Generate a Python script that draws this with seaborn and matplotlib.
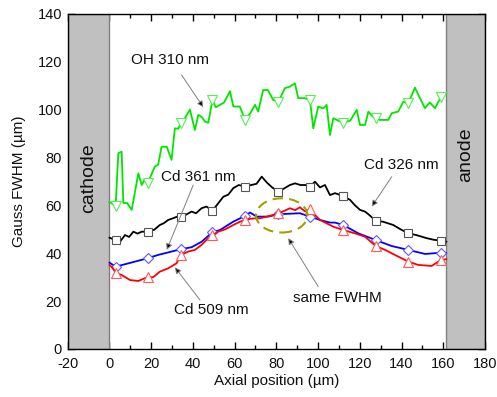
import numpy as np
import pandas as pd
import matplotlib
matplotlib.use("Agg")
import matplotlib.pyplot as plt
from matplotlib.patches import Rectangle, Ellipse
from matplotlib.ticker import MultipleLocator
import seaborn as sns

# ---------------- data ----------------
marker_x = [3.0, 18.3, 34.3, 49.4, 65.0, 81.0, 96.1, 112.0, 127.6, 143.2, 158.9]

oh_x = [0, 3.0, 4.3, 5.9, 6.7, 8.5, 10.7, 13.9, 15.5, 16.8, 18.3, 21.8, 23.4, 25.0, 27.5,
        29.8, 31.4, 33.0, 34.3, 36.2, 38.6, 41.0, 42.6, 44.2, 45.8, 47.4, 49.4, 51.0, 53.0,
        55.0, 57.8, 59.4, 62.5, 65.0, 67.5, 69.8, 71.3, 73.7, 76.0, 78.5, 81.0, 84.1, 86.5,
        88.9, 90.5, 93.5, 96.1, 97.7, 100.1, 102.5, 104.1, 105.7, 107.3, 109.0, 112.0, 115.5,
        118.5, 120.1, 122.5, 124.1, 125.7, 127.6, 129.5, 133.6, 135.3, 138.4, 140.8, 143.2,
        146.4, 148.8, 151.2, 153.5, 156.0, 158.9, 161.5]
oh_y = [61.5, 59.7, 81.8, 82.4, 61, 61, 58.1, 73.4, 68.5, 70.5, 69.2, 76.2, 77, 84.5, 84.5,
        79, 92.2, 92, 94.3, 96.4, 100, 91.5, 97.8, 97, 95, 94.5, 104, 101, 102,
        103, 107.7, 101.3, 101.3, 95.8, 98.5, 102, 99.2, 108.2, 108.2, 104, 103.3, 109, 109.6,
        111, 104.8, 104.8, 104, 92.2, 101.3, 100.5, 102, 89.4, 96.4, 95.7, 94.3, 95.5,
        99.9, 93.6, 93.6, 99.2, 97.5, 96.4, 95.7, 95.7, 98.5, 99.2, 103.3, 102.6,
        109.2, 104.8, 100.6, 103, 100.6, 105.4, 106.8]

cd326_x = [0, 3.0, 5.1, 7.5, 9.5, 11.5, 13.5, 15.5, 18.3, 21.5, 24.2, 26.0, 28.2, 30.5, 32.5,
           34.3, 36.5, 39.4, 41.5, 44.2, 46.5, 49.4, 52.2, 54.6, 57.0, 59.4, 62.0, 65.0, 68.0,
           70.5, 73.0, 75.5, 78.0, 81.0, 84.0, 86.5, 89.0, 91.5, 94.0, 96.1, 98.5, 100.9, 103.3,
           105.7, 108.1, 112.0, 115.3, 117.7, 120.1, 122.5, 124.5, 127.6, 131.0, 136.0, 139.5,
           143.2, 147.0, 152.0, 155.5, 158.9, 161.5]
cd326_y = [46.5, 45.5, 44.8, 47.6, 46.8, 49.0, 48.2, 49.0, 49.0, 49.8, 51.8, 52.5, 53.9, 54.6, 55.3,
           55.3, 56.0, 57.4, 56.7, 58.8, 59.5, 57.8, 60.9, 63.6, 64.5, 67.2, 68.5, 67.8, 68.5,
           69.0, 72.0, 69.5, 67.5, 65.7, 67.2, 68.5, 69.2, 68.5, 68.5, 67.8, 69.9, 67.5, 68.5,
           64.3, 65.1, 63.9, 62.3, 60.0, 58.1, 57.4, 56.0, 53.5, 53.2, 51.8, 50.0,
           48.3, 47.6, 46.3, 45.6, 45.3, 44.8]

cd361_x = [0, 3.0, 7.5, 12.3, 18.3, 23.4, 29.8, 34.3, 39.4, 44.2, 49.4, 53.0, 59.4, 65.0, 67.4,
           70.6, 76.1, 81.0, 86.0, 91.3, 96.1, 100.9, 105.7, 108.1, 112.0, 119.3, 127.6, 135.3,
           143.2, 151.2, 158.9, 161.5]
cd361_y = [36.1, 34.4, 35.4, 36.5, 37.9, 39.3, 40.7, 41.7, 42.5, 44.8, 48.8, 49.7, 53.2, 55.6, 57.0,
           55.3, 55.3, 56.3, 56.5, 56.7, 55.3, 53.9, 52.8, 52.8, 51.8, 48.3, 45.5, 43.0,
           41.4, 39.7, 40.2, 40.0]

cd509_x = [0, 1.5, 3.0, 5.9, 9.9, 13.9, 16.0, 18.3, 21.0, 24.2, 28.2, 32.2, 34.3, 37.8, 41.0,
           44.2, 47.4, 49.4, 52.2, 55.5, 59.4, 62.6, 65.0, 68.5, 72.2, 75.4, 78.5, 81.0, 84.1,
           86.5, 89.0, 91.3, 93.7, 96.1, 98.5, 100.9, 104.1, 107.3, 112.0, 117.7, 122.5, 127.6,
           132.1, 136.8, 143.2, 148.0, 154.4, 158.9, 161.5]
cd509_y = [35.1, 34.0, 31.9, 30.9, 28.8, 28.4, 29.2, 30.0, 30.0, 32.3, 33.7, 35.8, 39.3, 40.7, 41.4,
           43.5, 46.3, 47.6, 49.0, 50.0, 51.8, 53.2, 53.9, 54.5, 54.6, 55.3, 56.0, 56.7, 57.8,
           58.8, 58.0, 59.2, 57.5, 58.4, 56.0, 53.9, 52.5, 51.1, 49.7, 48.3, 46.9, 43.0,
           41.4, 39.3, 36.5, 35.1, 34.7, 37.2, 37.5]

labels = ["OH 310 nm", "Cd 326 nm", "Cd 361 nm", "Cd 509 nm", "same FWHM"]

# ---------------- style ----------------
sns.set_theme(style="ticks")
plt.rcParams["font.family"] = ["Liberation Sans", "DejaVu Sans"]
plt.rcParams["axes.linewidth"] = 1.0
plt.rcParams["axes.unicode_minus"] = False

fig = plt.figure(figsize=(4.97, 3.97), dpi=100)
ax = fig.add_axes([0.136, 0.121, 0.840, 0.844])

# electrodes
ax.add_patch(Rectangle((-20, 0), 20, 140, facecolor="#c0c0c0", edgecolor="#808080", lw=1.0, zorder=1))
ax.add_patch(Rectangle((161.5, 0), 18.5, 140, facecolor="#c0c0c0", edgecolor="#808080", lw=1.0, zorder=1))
ax.text(-10, 71.5, "cathode", rotation=90, ha="center", va="center", fontsize=14, color="#111111", zorder=3)
ax.text(170.8, 81, "anode", rotation=90, ha="center", va="center", fontsize=14, color="#111111", zorder=3)

series = [
    (oh_x, oh_y, "#00e600", "v", "#55ee55", 6.5),
    (cd326_x, cd326_y, "#000000", "s", "#555555", 5.8),
    (cd361_x, cd361_y, "#0000ff", "D", "#5a5aff", 5.0),
    (cd509_x, cd509_y, "#ff0000", "^", "#ff5a5a", 6.5),
]
for xs, ys, col, mk, mec, ms in series:
    df = pd.DataFrame({"x": xs, "y": ys})
    mask = list(np.isin(np.round(df["x"].values, 1), np.round(marker_x, 1)))
    sns.lineplot(data=df, x="x", y="y", ax=ax, color=col, lw=1.3, sort=False,
                 estimator=None, marker=mk, markevery=mask, markersize=ms,
                 markerfacecolor="white", markeredgecolor=mec, markeredgewidth=0.8,
                 zorder=4)

# ellipse
ax.add_patch(Ellipse((82.6, 55.8), 24.6, 14.3, fill=False, ls=(0, (5, 3)),
                     edgecolor="#a0a000", lw=1.5, zorder=5))

# annotations
arrow_kw = dict(arrowstyle="-|>", ec="#808080", fc="black", lw=0.7,
                mutation_scale=9, shrinkA=0, shrinkB=0)
texts = [
    (labels[0], (29, 120.8), (34.6, 114.5), (45.0, 101.0)),
    (labels[1], (139.7, 76.9), (135.3, 72.0), (125.7, 59.5)),
    (labels[2], (42.4, 71.9), (40.2, 68.5), (27.5, 41.4)),
    (labels[3], (49.0, 16.3), (43.4, 20.5), (31.4, 34.1)),
    (labels[4], (109.3, 21.4), (100.1, 26.0), (85.7, 46.3)),
]
for txt, tpos, tail, tip in texts:
    ax.text(tpos[0], tpos[1], txt, ha="center", va="center", fontsize=11, color="#111111", zorder=6)
    ax.annotate("", xy=tip, xytext=tail, arrowprops=arrow_kw, zorder=6)

ax.set_xlim(-20, 180)
ax.set_ylim(0, 140)
ax.set_xticks(np.arange(-20, 181, 20))
ax.set_yticks(np.arange(0, 141, 20))
ax.xaxis.set_minor_locator(MultipleLocator(10))
ax.yaxis.set_minor_locator(MultipleLocator(10))
ax.tick_params(which="both", direction="in", top=True, right=True, color="black",
               labelsize=10.5, labelcolor="#111111")
ax.tick_params(which="major", length=5, width=1)
ax.tick_params(which="minor", length=3, width=1)
ax.tick_params(axis="x", which="major", pad=6)
ax.tick_params(axis="y", which="major", pad=4)
for s in ax.spines.values():
    s.set_color("black")
    s.set_zorder(7)
ax.set_xlabel("Axial position (µm)", fontsize=11, labelpad=2, color="#111111")
ax.set_ylabel("Gauss FWHM (µm)", fontsize=11, labelpad=8, color="#111111")

fig.savefig("out.png", dpi=100)
